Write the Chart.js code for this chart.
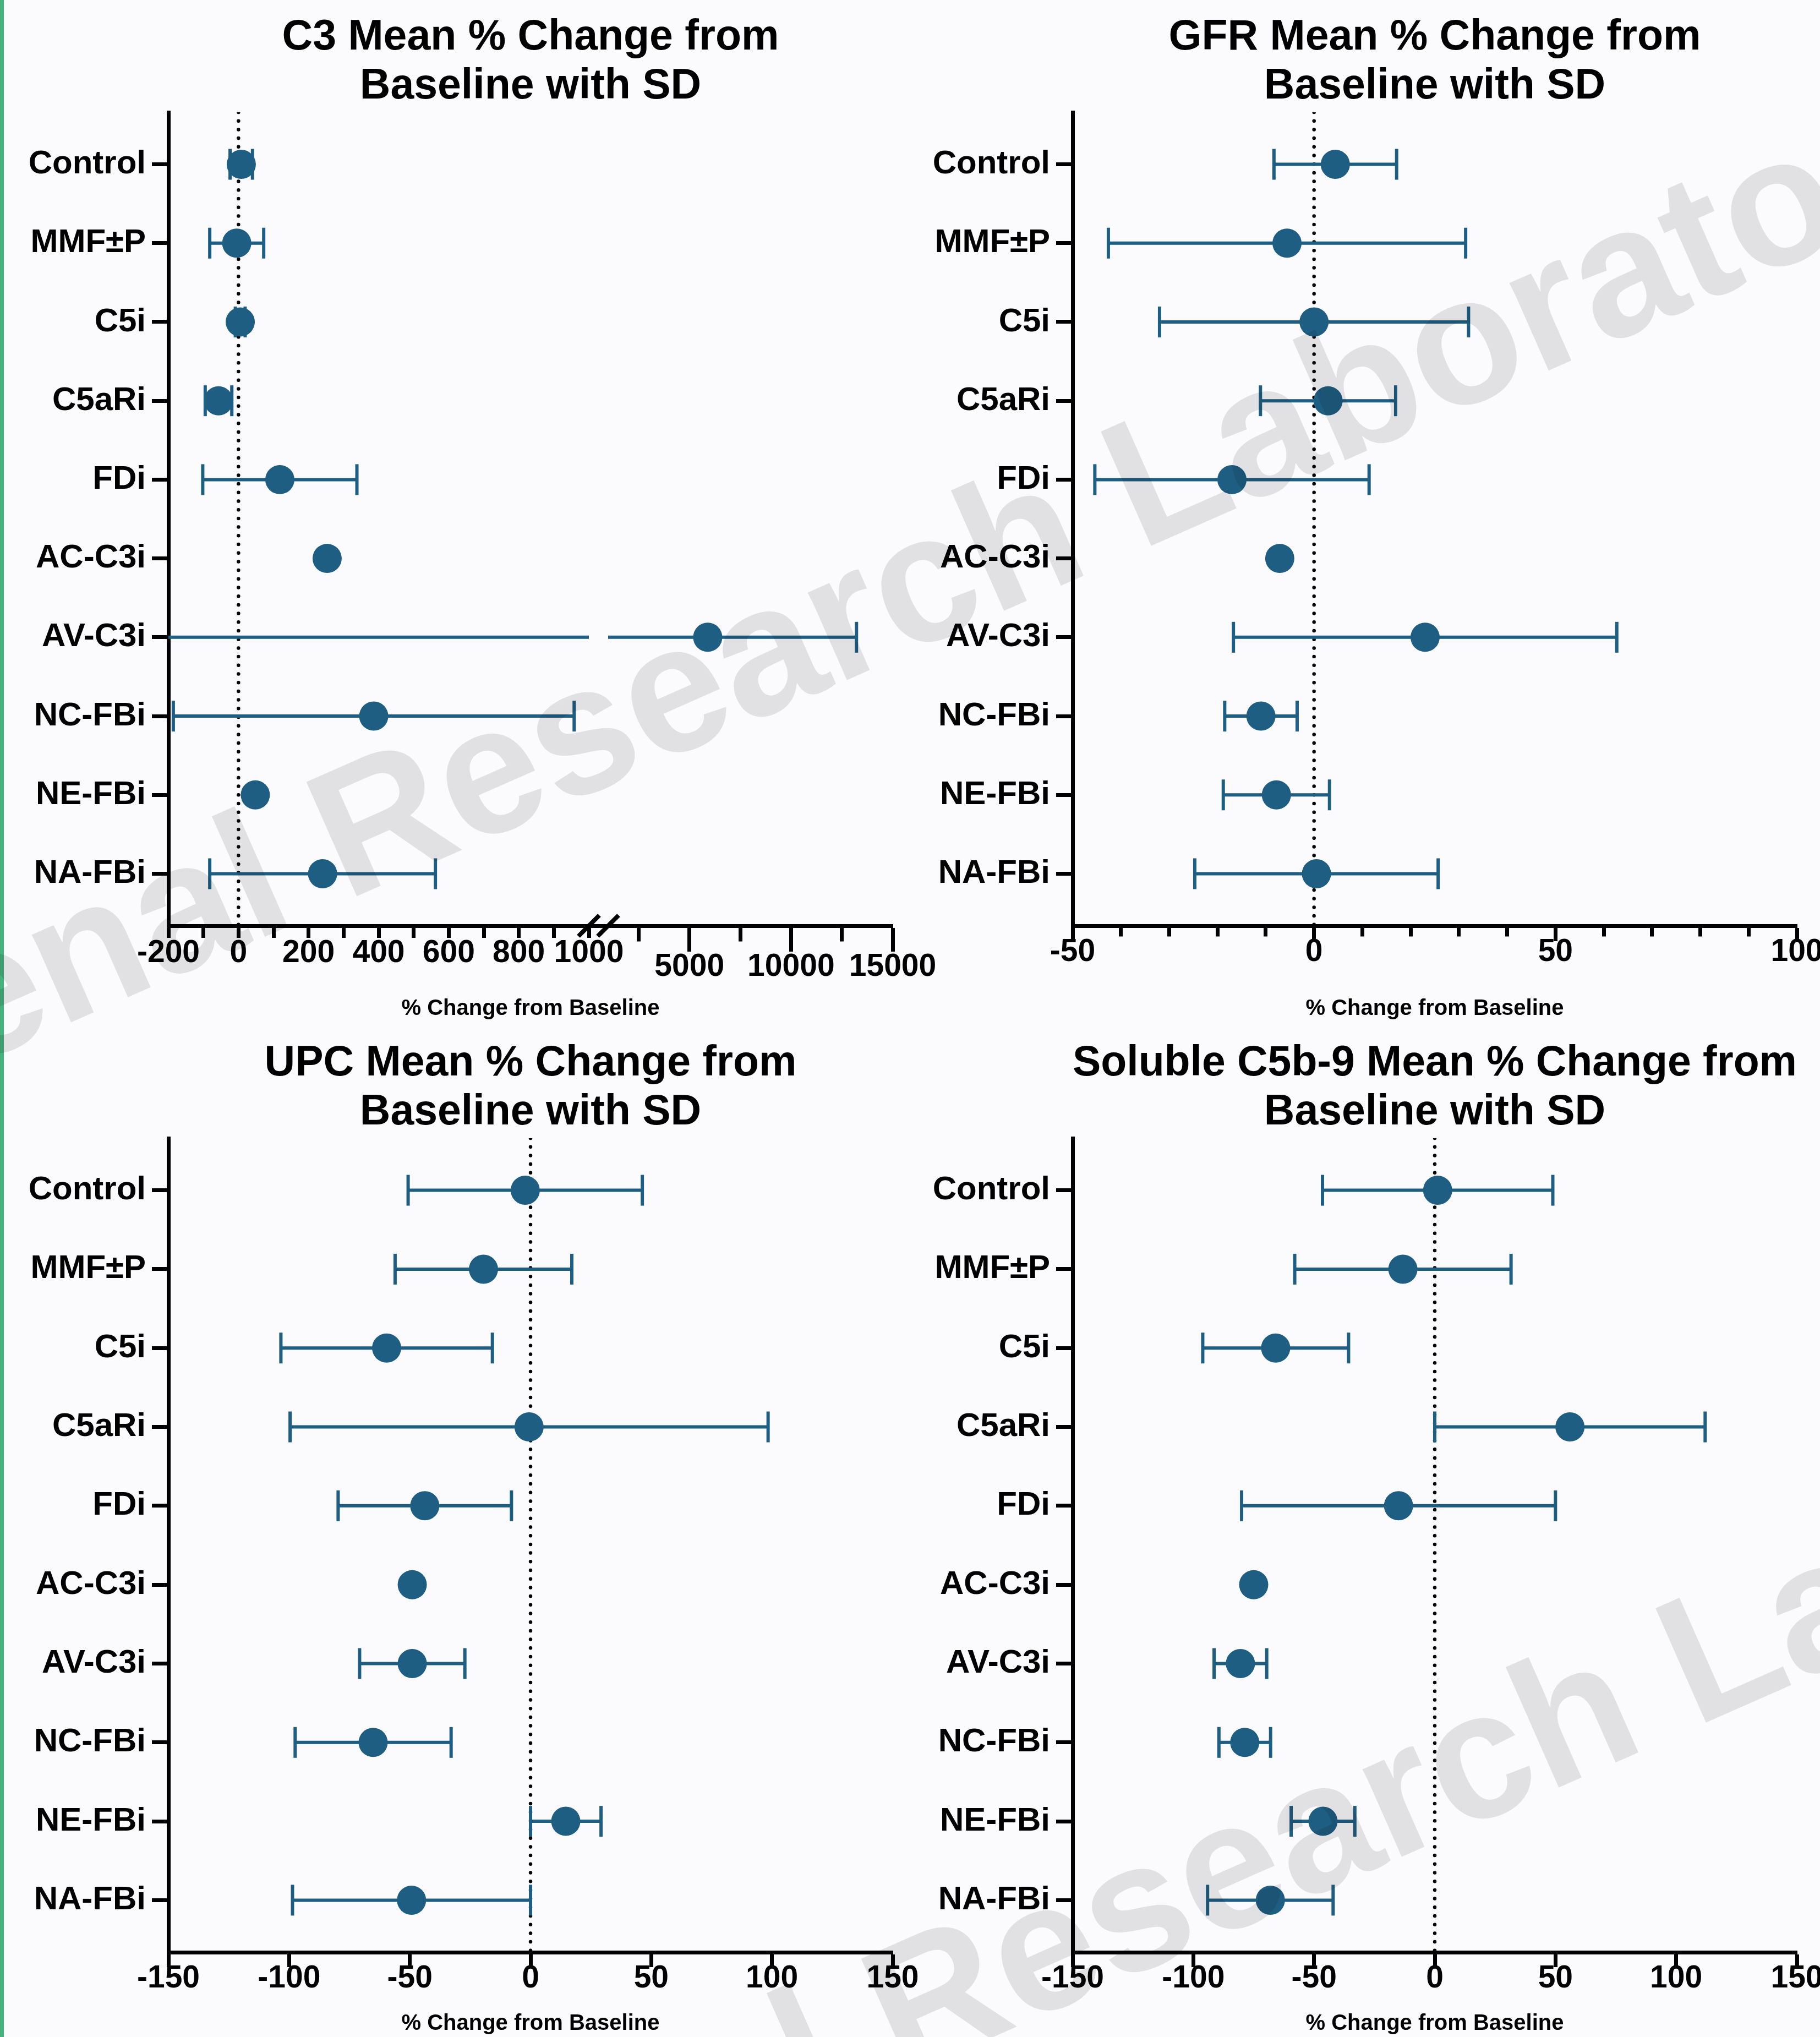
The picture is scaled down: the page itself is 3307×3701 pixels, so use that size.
<!DOCTYPE html>
<html lang="en">
<head>
<meta charset="utf-8">
<title>Mean % Change from Baseline with SD</title>
<script src="https://cdn.jsdelivr.net/npm/chart.js@4.4.1/dist/chart.umd.min.js"></script>
<style>
  html, body { margin: 0; padding: 0; overflow: hidden; }
  body { position: relative; width: 3307px; height: 3701px; background: #fbfbfd; }
  .stripe { position: absolute; left: 0; top: 0; width: 7px; height: 100%; background: #46b27b; }
  canvas { position: absolute; }
  #c3 { left: 0; top: 0; }
  #gfr { left: 1653px; top: 0; }
  #upc { left: 0; top: 1850px; }
  #c5b9 { left: 1653px; top: 1850px; }
  .mark { position: absolute; left: 0; top: 0; pointer-events: none; }
</style>
</head>
<body>
<div class="stripe"></div>
<canvas id="c3" width="1722" height="1854"></canvas>
<canvas id="gfr" width="1712" height="1854"></canvas>
<canvas id="upc" width="1722" height="1851"></canvas>
<canvas id="c5b9" width="1712" height="1851"></canvas>
<svg class="mark" width="3307" height="3701">
  <g font-family="Liberation Sans, Arial, sans-serif" font-weight="bold" font-size="330" fill="rgba(0,0,0,0.1)">
    <text transform="translate(-278 2037) rotate(-23.8)">Renal Research Laboratory</text>
    <text transform="translate(730 4175) rotate(-23.8)">Renal Research Laboratory</text>
  </g>
</svg>
<script>
const categories = ['Control', 'MMF±P', 'C5i', 'C5aRi', 'FDi', 'AC-C3i', 'AV-C3i', 'NC-FBi', 'NE-FBi', 'NA-FBi'];

// mean % change and SD per group (null = no error bar drawn)
const c3Mean = [8, -5, 5, -57, 118, 253, 5900, 386, 48, 240];
const c3Sd = [32, 77, 14, 38, 220, null, 7320, 572, null, 322];
const gfrMean = [4.4, -5.6, 0, 2.9, -17, -7.1, 23, -11, -7.8, 0.5];
const gfrSd = [12.7, 37, 32, 14, 28.4, null, 39.7, 7.5, 11, 25.2];
const upcMean = [-2.2, -19.5, -59.6, -0.6, -43.8, -49, -49, -65.2, 14.6, -49.3];
const upcSd = [48.5, 36.6, 43.8, 99, 35.9, null, 21.8, 32.3, 14.6, 49.3];
const c5b9Mean = [1.2, -13.2, -65.9, 56, -15, -75, -80.5, -78.7, -46.3, -68.1];
const c5b9Sd = [47.7, 44.8, 30.2, 56, 65, null, 10.9, 10.7, 13.2, 26];

// tick labels
const c3LowTicks = [-200, 0, 200, 400, 600, 800, 1000];
const c3LowMinor = [-100, 100, 300, 500, 700, 900];
const c3HighTicks = [5000, 10000, 15000];
const c3HighMinor = [2500, 7500, 12500];
const gfrTicks = [-50, 0, 50, 100];
const gfrMinor = [-40, -30, -20, -10, 10, 20, 30, 40, 60, 70, 80, 90];
const pctTicks = [-150, -100, -50, 0, 50, 100, 150];

const FONT = "'Liberation Sans', Arial, Helvetica, sans-serif";
const TEAL = '#1f5e83';
const yMin = -0.66, yMax = 9.66;

Chart.defaults.color = '#000';
Chart.defaults.font.family = FONT;

function tickList(majors, minors) {
  return majors.map(v => ({ value: v }))
    .concat(minors.map(v => ({ value: v, minor: true })))
    .sort((a, b) => a.value - b.value);
}

function yScale(width) {
  return {
    type: 'linear', position: 'left', reverse: true, min: yMin, max: yMax,
    afterBuildTicks: (axis) => { axis.ticks = categories.map((c, i) => ({ value: i })); },
    afterFit: (axis) => { axis.width = width; },
    ticks: {
      autoSkip: false, padding: 11, color: '#000',
      font: { size: 60, weight: 'bold', lineHeight: 1 },
      callback: (v) => categories[v],
    },
    grid: { drawOnChartArea: false, tickLength: 30, tickWidth: 7, tickColor: '#000' },
    border: { color: '#000', width: 7 },
  };
}

function xScale(s) {
  return {
    type: 'linear', position: 'bottom', min: s.min, max: s.max,
    stack: s.stack, stackWeight: s.weight || 1,
    afterBuildTicks: (axis) => { axis.ticks = tickList(s.majors, s.minors || []); },
    afterFit: (axis) => { axis.height = s.height; },
    ticks: {
      autoSkip: false, maxRotation: 0, padding: s.labelPad, color: '#000',
      font: { size: 57, weight: 'bold', lineHeight: 1 },
      callback: (v, i, ticks) => ticks[i].minor ? '' : String(v),
    },
    grid: {
      drawOnChartArea: false, tickLength: s.tickLength, tickWidth: 7, tickColor: '#000',
      tickBorderDash: (ctx) => (ctx.tick && ctx.tick.minor && s.minorLength) ? [s.minorLength, 400] : [],
    },
    border: { color: '#000', width: 7 },
  };
}

function gapScale(stack, weight, height) {
  return {
    type: 'linear', position: 'bottom', min: 0, max: 1, stack: stack, stackWeight: weight,
    afterFit: (axis) => { axis.height = height; },
    ticks: { display: false },
    grid: { drawOnChartArea: false, drawTicks: false },
    border: { color: '#000', width: 7 },
  };
}

// split means and SD into dots, caps and whisker segments for one axis range
function errorData(means, sds, min, max) {
  const dots = [], caps = [], bars = [];
  means.forEach((m, i) => {
    if (m >= min && m <= max) dots.push({ x: m, y: i });
    if (sds[i] == null) return;
    const lo = m - sds[i], hi = m + sds[i];
    if (hi < min || lo > max) return;
    if (lo >= min) caps.push({ x: lo, y: i });
    if (hi <= max) caps.push({ x: hi, y: i });
    bars.push({ x: Math.max(lo, min), y: i }, { x: Math.min(hi, max), y: i }, { x: null, y: null });
  });
  return { dots, caps, bars };
}

function seriesSets(means, sds, axisId, min, max) {
  const d = errorData(means, sds, min, max);
  return [
    {
      type: 'scatter', data: d.dots, xAxisID: axisId, order: 0,
      pointRadius: 26.5, pointBackgroundColor: TEAL, pointBorderWidth: 0,
    },
    {
      type: 'scatter', data: d.caps, xAxisID: axisId, order: 1,
      pointStyle: 'line', pointRotation: 90, pointRadius: 28,
      pointBorderColor: TEAL, pointBorderWidth: 6,
    },
    {
      type: 'line', data: d.bars, xAxisID: axisId, order: 2,
      borderColor: TEAL, borderWidth: 6, pointRadius: 0, spanGaps: false,
    },
  ];
}

function zeroLine(axisId) {
  return {
    type: 'line', data: [{ x: 0, y: yMin }, { x: 0, y: yMax }], xAxisID: axisId, order: 3,
    borderColor: '#000', borderWidth: 6.5, borderDash: [0, 15.7], borderCapStyle: 'round',
    pointRadius: 0,
  };
}

// "//" marks where the C3 axis is broken
const breakMarks = {
  id: 'breakMarks',
  afterDraw(chart) {
    const lo = chart.scales.xL, hi = chart.scales.xR;
    const ctx = chart.ctx;
    const y = lo.top;
    const xs = [lo.getPixelForValue(lo.max), hi.getPixelForValue(hi.min)];
    ctx.save();
    ctx.strokeStyle = '#000';
    ctx.lineWidth = 8;
    xs.forEach(x => {
      ctx.beginPath();
      ctx.moveTo(x - 19, y + 19);
      ctx.lineTo(x + 19, y - 19);
      ctx.stroke();
    });
    ctx.restore();
  }
};

function makeChart(id, cfg) {
  return new Chart(document.getElementById(id), {
    type: 'scatter',
    data: { datasets: cfg.datasets },
    options: {
      responsive: false,
      devicePixelRatio: 1,
      animation: false,
      events: [],
      layout: { padding: { left: 0, right: 100, top: 0, bottom: 0 } },
      scales: Object.assign({ y: yScale(cfg.yWidth) }, cfg.xScales),
      plugins: {
        legend: { display: false },
        tooltip: { enabled: false },
        title: {
          display: true, fullSize: false, text: cfg.title, color: '#000',
          font: { size: 77, weight: 'bold', lineHeight: '89px' },
          padding: cfg.titlePad,
        },
        subtitle: {
          display: true, fullSize: false, position: 'bottom', text: '% Change from Baseline', color: '#000',
          font: { size: 40, weight: 'bold', lineHeight: 1 },
          padding: { top: 0, bottom: cfg.subPad },
        },
      },
    },
    plugins: cfg.plugins || [],
  });
}

const topTitlePad = { top: 24, bottom: 2 };
const bottomTitlePad = { top: 38.5, bottom: 1.5 };

// C3 with a broken x axis
const c3Split = c3LowTicks[c3LowTicks.length - 1];
makeChart('c3', {
  title: ['C3 Mean % Change from', 'Baseline with SD'],
  yWidth: 306, titlePad: topTitlePad, subPad: 1,
  xScales: {
    xL: xScale({ min: c3LowTicks[0], max: c3Split, majors: c3LowTicks, minors: c3LowMinor,
      stack: 'c3', weight: 764, height: 131, tickLength: 22, labelPad: 0 }),
    xGap: gapScale('c3', 35, 131),
    xR: xScale({ min: c3Split, max: c3HighTicks[c3HighTicks.length - 1], majors: c3HighTicks, minors: c3HighMinor,
      stack: 'c3', weight: 517, height: 131, tickLength: 47, minorLength: 24.5, labelPad: 0 }),
  },
  datasets: [zeroLine('xL')]
    .concat(seriesSets(c3Mean, c3Sd, 'xL', c3LowTicks[0], c3Split))
    .concat(seriesSets(c3Mean, c3Sd, 'xR', c3Split, c3HighTicks[c3HighTicks.length - 1])),
  plugins: [breakMarks],
});

makeChart('gfr', {
  title: ['GFR Mean % Change from', 'Baseline with SD'],
  yWidth: 296, titlePad: topTitlePad, subPad: 1,
  xScales: {
    x: xScale({ min: gfrTicks[0], max: gfrTicks[gfrTicks.length - 1], majors: gfrTicks, minors: gfrMinor,
      height: 131, tickLength: 28, minorLength: 15.5, labelPad: -8 }),
  },
  datasets: [zeroLine('x')].concat(seriesSets(gfrMean, gfrSd, 'x', gfrTicks[0], gfrTicks[gfrTicks.length - 1])),
});

makeChart('upc', {
  title: ['UPC Mean % Change from', 'Baseline with SD'],
  yWidth: 306, titlePad: bottomTitlePad, subPad: 4,
  xScales: {
    x: xScale({ min: pctTicks[0], max: pctTicks[pctTicks.length - 1], majors: pctTicks,
      height: 110, tickLength: 27, labelPad: -7 }),
  },
  datasets: [zeroLine('x')].concat(seriesSets(upcMean, upcSd, 'x', pctTicks[0], pctTicks[pctTicks.length - 1])),
});

makeChart('c5b9', {
  title: ['Soluble C5b-9 Mean % Change from', 'Baseline with SD'],
  yWidth: 296, titlePad: bottomTitlePad, subPad: 4,
  xScales: {
    x: xScale({ min: pctTicks[0], max: pctTicks[pctTicks.length - 1], majors: pctTicks,
      height: 110, tickLength: 27, labelPad: -7 }),
  },
  datasets: [zeroLine('x')].concat(seriesSets(c5b9Mean, c5b9Sd, 'x', pctTicks[0], pctTicks[pctTicks.length - 1])),
});
</script>
</body>
</html>
